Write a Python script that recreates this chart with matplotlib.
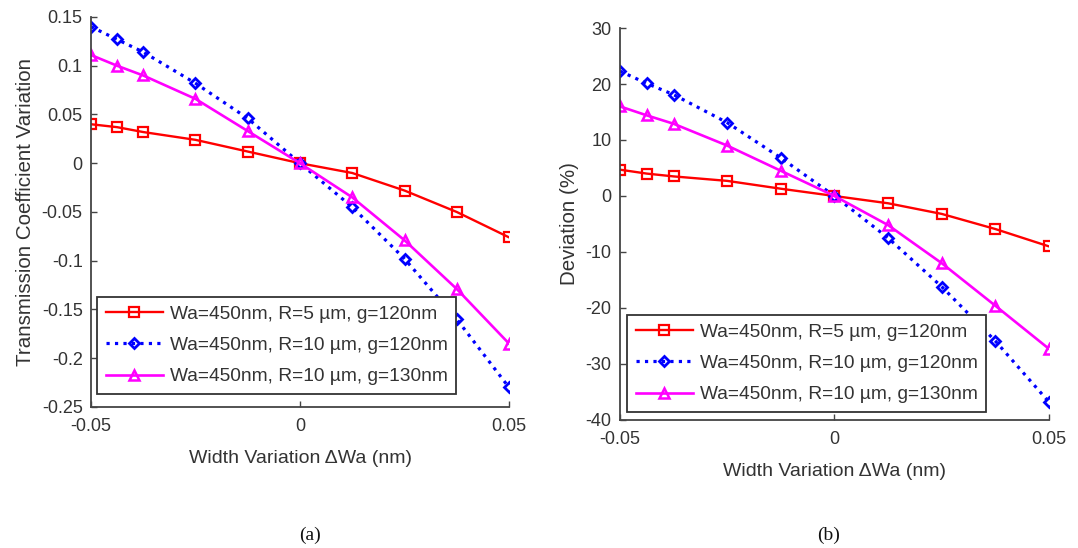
import matplotlib
matplotlib.use("Agg")
import matplotlib.pyplot as plt

plt.rcParams['font.family'] = ['Liberation Sans', 'DejaVu Sans']
plt.rcParams['axes.unicode_minus'] = False

# ---- data ----
width_var = [-0.05, -0.04375, -0.0375, -0.025, -0.0125, 0.0, 0.0125, 0.025, 0.0375, 0.05]

labels = ["Wa=450nm, R=5 \u00b5m, g=120nm",
          "Wa=450nm, R=10 \u00b5m, g=120nm",
          "Wa=450nm, R=10 \u00b5m, g=130nm"]

# (a) transmission coefficient variation
tc_r5_g120 = [0.040, 0.037, 0.032, 0.024, 0.012, 0.0, -0.010, -0.028, -0.050, -0.076]
tc_r10_g120 = [0.140, 0.127, 0.114, 0.082, 0.046, 0.0, -0.045, -0.098, -0.160, -0.230]
tc_r10_g130 = [0.111, 0.100, 0.090, 0.066, 0.033, 0.0, -0.035, -0.079, -0.129, -0.185]

# (b) deviation (%)
dev_r5_g120 = [4.7, 4.0, 3.5, 2.7, 1.3, 0.0, -1.3, -3.2, -5.9, -9.0]
dev_r10_g120 = [22.3, 20.1, 18.1, 13.1, 6.8, 0.0, -7.5, -16.2, -25.9, -36.8]
dev_r10_g130 = [16.0, 14.4, 12.9, 9.0, 4.5, 0.0, -5.2, -12.0, -19.6, -27.3]

xticks = [-0.05, 0, 0.05]
xtick_labels = ["-0.05", "0", "0.05"]
yticks_a = [-0.25, -0.2, -0.15, -0.1, -0.05, 0, 0.05, 0.1, 0.15]
ytick_labels_a = ["-0.25", "-0.2", "-0.15", "-0.1", "-0.05", "0", "0.05", "0.1", "0.15"]
yticks_b = [-40, -30, -20, -10, 0, 10, 20, 30]
ytick_labels_b = ["-40", "-30", "-20", "-10", "0", "10", "20", "30"]

TXT = '#333333'

fig = plt.figure(figsize=(10.78, 5.48), dpi=100)
axA = fig.add_axes([0.0844, 0.2573, 0.3878, 0.7117])
axB = fig.add_axes([0.5751, 0.2336, 0.3980, 0.7153])

styles = [
    dict(color='#ff0000', linestyle='-', linewidth=1.7, marker='s', markersize=7.5,
         markerfacecolor='none', markeredgewidth=1.6),
    dict(color='#0000ff', linestyle=':', linewidth=2.3, marker='D', markersize=5.5,
         markerfacecolor='none', markeredgewidth=2.0),
    dict(color='#ff00ff', linestyle='-', linewidth=1.9, marker='^', markersize=6.5,
         markerfacecolor='none', markeredgewidth=1.8),
]

def setup(ax, ys, yticks, ylabels, ylabel, ylim, leg_anchor):
    for y, st, lab in zip(ys, styles, labels):
        ax.plot(width_var, y, label=lab, **st)
    ax.set_xlim(-0.05, 0.05)
    ax.set_ylim(*ylim)
    ax.set_xticks(xticks)
    ax.set_xticklabels(xtick_labels)
    ax.set_yticks(yticks)
    ax.set_yticklabels(ylabels)
    for s in ['top', 'right']:
        ax.spines[s].set_visible(False)
    for s in ['left', 'bottom']:
        ax.spines[s].set_color('#444444')
        ax.spines[s].set_linewidth(1.3)
    ax.tick_params(direction='in', length=4, width=1, colors='#444444',
                   labelcolor=TXT, labelsize=13, pad=6)
    ax.tick_params(axis='x', pad=8)
    ax.set_xlabel("Width Variation \u0394Wa (nm)", fontsize=14, color=TXT, labelpad=10.5)
    ax.set_ylabel(ylabel, fontsize=14.8, color=TXT, labelpad=5)
    leg = ax.legend(loc='lower left', bbox_to_anchor=leg_anchor,
                    bbox_transform=fig.transFigure, fontsize=13.8,
                    frameon=True, fancybox=False, framealpha=1,
                    edgecolor='#333333', borderaxespad=0, borderpad=0.45,
                    handlelength=3.0, handletextpad=0.35, labelspacing=0.72)
    leg.get_frame().set_linewidth(1.3)
    for t in leg.get_texts():
        t.set_color(TXT)

setup(axA, [tc_r5_g120, tc_r10_g120, tc_r10_g130], yticks_a, ytick_labels_a,
      "Transmission Coefficient Variation", (-0.25, 0.15), (0.0900, 0.2810))
setup(axB, [dev_r5_g120, dev_r10_g120, dev_r10_g130], yticks_b, ytick_labels_b,
      "Deviation (%)", (-40, 30), (0.5816, 0.2482))

fig.text(310 / 1078, 1 - 535 / 548, "(a)", ha='center', va='center',
         fontsize=14, family='Liberation Serif', color='#111111')
fig.text(829 / 1078, 1 - 535 / 548, "(b)", ha='center', va='center',
         fontsize=14, family='Liberation Serif', color='#111111')

fig.savefig("out.png", dpi=100)
